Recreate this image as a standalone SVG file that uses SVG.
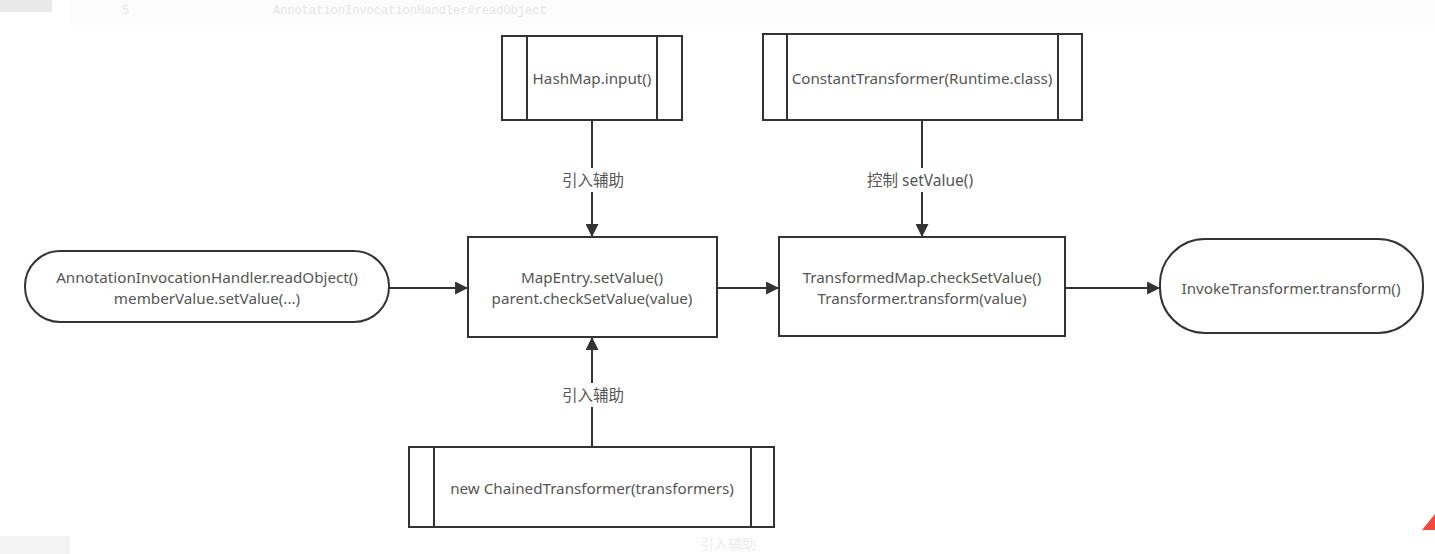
<svg xmlns="http://www.w3.org/2000/svg" width="1435" height="554" viewBox="0 0 1435 554">
<defs>
<style>
.box{fill:#fff;stroke:#333;stroke-width:2}
.ln{fill:none;stroke:#333;stroke-width:2}
.t{font-family:"Noto Sans","Noto Sans CJK SC",sans-serif;font-size:15.2px;fill:#555;text-anchor:middle}
.lbl{font-family:"Noto Sans","Noto Sans CJK SC",sans-serif;font-size:15.5px;fill:#555;text-anchor:middle}
.bg{font-family:"Liberation Mono",monospace;font-size:12px;fill:#e6e6e6}
</style>
<marker id="ahb" viewBox="0 0 12 12" refX="11" refY="6" markerWidth="13" markerHeight="13" markerUnits="userSpaceOnUse" orient="auto">
<path d="M0,0 L12,6 L0,12 z" fill="#333"/>
</marker>
</defs>
<rect width="1435" height="554" fill="#fff"/>
<g id="background">
<rect x="0" y="0" width="52" height="12" fill="#e9e9e9"/>
<rect x="70" y="0" width="1365" height="25" fill="#fcfcfc"/>
<rect x="0" y="536" width="70" height="18" fill="#f3f3f3"/>
<text class="bg" x="122" y="14">5</text>
<text class="bg" x="273" y="14">AnnotationInvocationHandler#readObject</text>
<text x="728" y="549" font-family="'Noto Sans CJK SC',sans-serif" font-size="14" fill="#ececec" text-anchor="middle">引入辅助</text>
<polygon points="1435,514 1435,530 1422,530" fill="#f24a3a"/>
</g>
<g id="connectors">
<line class="ln" x1="592" y1="120" x2="592" y2="168"/>
<line class="ln" x1="592" y1="192" x2="592" y2="236" marker-end="url(#ahb)"/>
<text class="lbl" x="593" y="186">引入辅助</text>
<line class="ln" x1="922" y1="120" x2="922" y2="168"/>
<line class="ln" x1="922" y1="192" x2="922" y2="236" marker-end="url(#ahb)"/>
<text class="lbl" x="920" y="186">控制 setValue()</text>
<line class="ln" x1="592" y1="447" x2="592" y2="407"/>
<line class="ln" x1="592" y1="383" x2="592" y2="338" marker-end="url(#ahb)"/>
<text class="lbl" x="593" y="401">引入辅助</text>
<line class="ln" x1="389" y1="288" x2="467" y2="288" marker-end="url(#ahb)"/>
<line class="ln" x1="717" y1="288" x2="778" y2="288" marker-end="url(#ahb)"/>
<line class="ln" x1="1065" y1="288" x2="1159" y2="288" marker-end="url(#ahb)"/>
</g>
<g id="hashmap">
<rect class="box" x="502" y="36" width="180" height="84"/>
<line class="ln" x1="527" y1="36" x2="527" y2="120"/>
<line class="ln" x1="657" y1="36" x2="657" y2="120"/>
<text class="t" x="592" y="84">HashMap.input()</text>
</g>
<g id="constant">
<rect class="box" x="763" y="34" width="319" height="86"/>
<line class="ln" x1="787" y1="34" x2="787" y2="120"/>
<line class="ln" x1="1058" y1="34" x2="1058" y2="120"/>
<text class="t" x="922" y="84">ConstantTransformer(Runtime.class)</text>
</g>
<g id="annotation">
<rect class="box" x="25" y="251" width="364" height="71" rx="35" ry="35"/>
<text class="t" x="207" y="283">AnnotationInvocationHandler.readObject()</text>
<text class="t" x="207" y="304">memberValue.setValue(...)</text>
</g>
<g id="mapentry">
<rect class="box" x="468" y="237" width="249" height="100"/>
<text class="t" x="592" y="283">MapEntry.setValue()</text>
<text class="t" x="592" y="304">parent.checkSetValue(value)</text>
</g>
<g id="transformedmap">
<rect class="box" x="779" y="237" width="286" height="99"/>
<text class="t" x="922" y="283">TransformedMap.checkSetValue()</text>
<text class="t" x="922" y="304">Transformer.transform(value)</text>
</g>
<g id="invoke">
<rect class="box" x="1160" y="239" width="263" height="94" rx="45" ry="45"/>
<text class="t" x="1291" y="294">InvokeTransformer.transform()</text>
</g>
<g id="chained">
<rect class="box" x="409" y="447" width="365" height="80"/>
<line class="ln" x1="434" y1="447" x2="434" y2="527"/>
<line class="ln" x1="751" y1="447" x2="751" y2="527"/>
<text class="t" x="592" y="494">new ChainedTransformer(transformers)</text>
</g>
</svg>
